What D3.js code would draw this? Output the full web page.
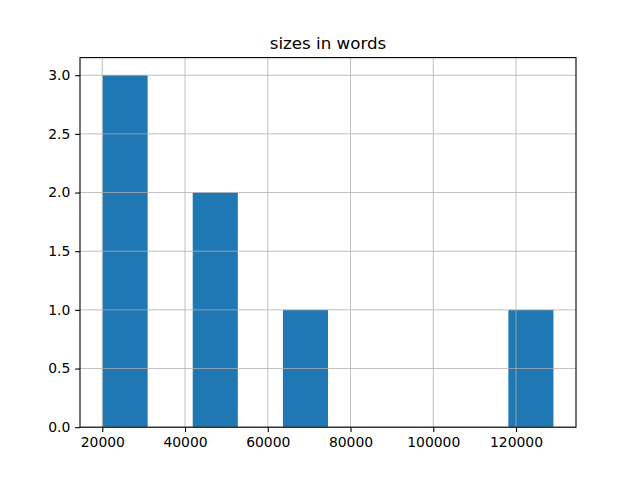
<!DOCTYPE html>
<html>
<head>
<meta charset="utf-8">
<script src="https://cdn.jsdelivr.net/npm/d3@7"></script>
<style>
  body { margin: 0; background: #fff; }
  text { font-family: "DejaVu Sans", sans-serif; fill: #000; }
</style>
</head>
<body>
<svg id="chart" width="640" height="480"></svg>
<script>
// word counts per document
var sizes = [20060, 24500, 29800, 43500, 49800, 66000, 129050];
var xTicks = [20000, 40000, 60000, 80000, 100000, 120000];
var yTicks = [0, 0.5, 1.0, 1.5, 2.0, 2.5, 3.0];
var title = "sizes in words";
var nBins = 10;

var width = 640, height = 480;
var margin = { top: 57.6, right: 64, bottom: 52.8, left: 80 };

var svg = d3.select("#chart");

// numpy-style equal-width bins between min and max
var lo = d3.min(sizes), hi = d3.max(sizes);
var step = (hi - lo) / nBins;
var thresholds = d3.range(1, nBins).map(function(i) { return lo + i * step; });
var bins = d3.bin().domain([lo, hi]).thresholds(thresholds)(sizes);

var pad = (hi - lo) * 0.05;
var x = d3.scaleLinear()
  .domain([lo - pad, hi + pad])
  .range([margin.left, width - margin.right]);

var maxCount = d3.max(bins, function(d) { return d.length; });
var y = d3.scaleLinear()
  .domain([0, maxCount * 1.05])
  .range([height - margin.bottom, margin.top]);

// bars
svg.append("g").selectAll("rect")
  .data(bins.filter(function(d) { return d.length > 0; }))
  .enter().append("rect")
  .attr("x", function(d) { return x(d.x0); })
  .attr("width", function(d) { return x(d.x1) - x(d.x0); })
  .attr("y", function(d) { return y(d.length); })
  .attr("height", function(d) { return y(0) - y(d.length); })
  .attr("fill", "#1f77b4");

// grid (drawn over the bars like matplotlib)
var grid = svg.append("g").attr("stroke", "#b0b0b0").attr("stroke-width", 0.8);
grid.selectAll(".vx").data(xTicks).enter().append("line")
  .attr("x1", function(d) { return x(d); }).attr("x2", function(d) { return x(d); })
  .attr("y1", margin.top).attr("y2", height - margin.bottom);
grid.selectAll(".hy").data(yTicks).enter().append("line")
  .attr("y1", function(d) { return y(d); }).attr("y2", function(d) { return y(d); })
  .attr("x1", margin.left).attr("x2", width - margin.right);

// axes
var xAxis = d3.axisBottom(x).tickValues(xTicks).tickSize(4.86).tickPadding(4.86)
  .tickFormat(d3.format("d"));
var gx = svg.append("g")
  .attr("transform", "translate(0," + (height - margin.bottom) + ")")
  .call(xAxis);

var yAxis = d3.axisLeft(y).tickValues(yTicks).tickSize(4.86).tickPadding(4.86)
  .tickFormat(d3.format(".1f"));
var gy = svg.append("g")
  .attr("transform", "translate(" + margin.left + ",0)")
  .call(yAxis);

[gx, gy].forEach(function(g) {
  g.select(".domain").remove();
  g.selectAll(".tick line").attr("stroke", "#000").attr("stroke-width", 1.1);
  g.selectAll(".tick text").attr("font-size", "13.9px")
    .style("font-family", "DejaVu Sans, sans-serif").attr("fill", "#000");
});

// frame
svg.append("rect")
  .attr("x", margin.left).attr("y", margin.top)
  .attr("width", width - margin.left - margin.right)
  .attr("height", height - margin.top - margin.bottom)
  .attr("fill", "none").attr("stroke", "#000").attr("stroke-width", 1.1);

svg.append("text")
  .attr("x", (margin.left + width - margin.right) / 2)
  .attr("y", margin.top - 8.3)
  .attr("text-anchor", "middle")
  .attr("font-size", "16.7px")
  .text(title);
</script>
</body>
</html>
